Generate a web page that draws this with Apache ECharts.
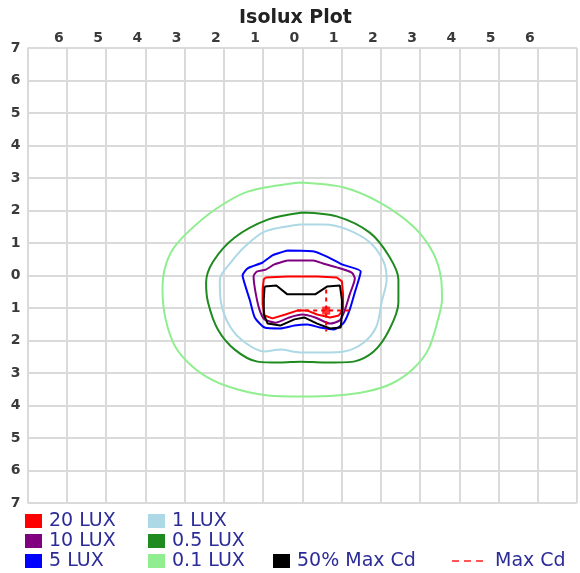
<!DOCTYPE html>
<html><head><meta charset="utf-8">
<script src="https://cdn.jsdelivr.net/npm/echarts@6/dist/echarts.min.js"></script>
<style>html,body{margin:0;padding:0;background:#fff}#c{width:580px;height:573px}</style>
</head><body><div id="c"></div>
<script>
// Contour paths (x: metres left/right, y: metres up/down; closed polygons)
const lux01 = [[-0.05,2.86],[1.06,2.71],[1.97,2.25],[2.83,1.51],[3.33,0.71],[3.54,-0.12],[3.56,-0.74],[3.46,-1.35],[3.21,-2.28],[2.8,-2.9],[2.27,-3.33],[1.64,-3.57],[0.88,-3.69],[0,-3.72],[-0.88,-3.69],[-1.64,-3.51],[-2.27,-3.23],[-2.8,-2.8],[-3.23,-2.2],[-3.48,-1.35],[-3.56,-0.43],[-3.5,0.22],[-3.3,0.8],[-2.9,1.35],[-2.22,2.03],[-1.39,2.58],[-0.05,2.86]];
const lux05 = [[0,1.94],[0.88,1.82],[1.72,1.32],[2.22,0.58],[2.45,-0.12],[2.45,-0.83],[2.22,-1.66],[1.82,-2.34],[1.31,-2.65],[0.56,-2.68],[-0.05,-2.65],[-0.56,-2.68],[-1.14,-2.65],[-1.72,-2.28],[-2.15,-1.66],[-2.4,-0.83],[-2.45,-0.22],[-2.27,0.43],[-1.72,1.17],[-0.88,1.72],[0,1.94]];
const lux1 = [[-0.05,1.57],[0.56,1.57],[1.14,1.42],[1.72,1.02],[2.07,0.43],[2.15,-0.12],[2.02,-0.83],[1.89,-1.57],[1.57,-2.06],[1.06,-2.34],[0.56,-2.37],[-0.05,-2.37],[-0.56,-2.28],[-0.96,-2.34],[-1.46,-2.06],[-1.84,-1.57],[-2.07,-0.83],[-2.1,-0.12],[-1.84,0.37],[-1.46,0.89],[-0.96,1.35],[-0.05,1.57]];
const lux5 = [[-0.38,0.77],[0.3,0.74],[0.63,0.58],[1.01,0.34],[1.49,0.12],[1.34,-0.52],[1.21,-1.05],[1.06,-1.45],[0.81,-1.66],[0.45,-1.6],[0.13,-1.51],[-0.2,-1.54],[-0.56,-1.63],[-0.96,-1.6],[-1.21,-1.29],[-1.34,-0.74],[-1.46,-0.28],[-1.52,0],[-1.39,0.22],[-1.01,0.4],[-0.76,0.62],[-0.38,0.77]];
const lux10 = [[-0.38,0.46],[0.28,0.46],[0.53,0.37],[0.88,0.25],[1.26,0.09],[1.34,-0.09],[1.21,-0.58],[1.09,-1.05],[0.96,-1.38],[0.71,-1.48],[0.33,-1.29],[0,-1.2],[-0.33,-1.29],[-0.68,-1.45],[-0.96,-1.35],[-1.09,-1.05],[-1.19,-0.52],[-1.24,-0.03],[-1.16,0.12],[-0.93,0.18],[-0.71,0.34],[-0.38,0.46]];
const lux20 = [[-0.93,-0.06],[-0.38,-0.03],[0.38,-0.03],[0.88,-0.06],[1.01,-0.18],[1.04,-0.58],[1.04,-1.05],[0.93,-1.23],[0.71,-1.29],[0.38,-1.2],[0.13,-1.08],[-0.13,-1.08],[-0.43,-1.2],[-0.76,-1.32],[-0.96,-1.23],[-1.01,-0.89],[-1.01,-0.43],[-0.98,-0.12],[-0.93,-0.06]];
const maxCd50 = [[-0.96,-0.34],[-0.66,-0.31],[-0.38,-0.58],[0.33,-0.58],[0.63,-0.34],[0.96,-0.31],[1.01,-0.74],[1.01,-1.2],[0.98,-1.6],[0.71,-1.63],[0.38,-1.48],[0.05,-1.29],[-0.2,-1.35],[-0.56,-1.54],[-0.88,-1.48],[-0.98,-1.2],[-0.98,-0.74],[-0.96,-0.34]];
const maxCdCross = [[-0.13,-1.08],[1.21,-1.08],['-','-'],[0.61,-0.43],[0.61,-1.72]];
const maxCdPoint = [[0.61,-1.08]];

const names1 = ['20 LUX','10 LUX','5 LUX'];
const names2 = ['1 LUX','0.5 LUX','0.1 LUX'];

const chart = echarts.init(document.getElementById('c'));
const grey = '#dadada';
function contour(name, data, color, smooth) {
  return {name, type:'line', data, symbol:'none', smooth: smooth || false,
    itemStyle:{color}, lineStyle:{color, width:2}, silent:true, z:2};
}
const legendText = {color:'#2c2c98', fontSize:19, fontFamily:'DejaVu Sans', lineHeight:20, padding:[0,0,0,2]};
const legendBase = {orient:'vertical', padding:0, itemGap:0, itemWidth:17, itemHeight:14, icon:'rect', selectedMode:false, height:80};
chart.setOption({
  animation:false,
  title:{text:'Isolux Plot', left:234, top:4,
    textStyle:{fontSize:19, fontWeight:'bold', fontFamily:'DejaVu Sans', color:'#222'}},
  grid:{left:27.5, top:48, width:553, height:455},
  xAxis:{type:'value', position:'top', min:-7, max:7, interval:1,
    axisLine:{show:true, lineStyle:{color:grey, width:2}}, axisTick:{show:false},
    splitLine:{show:true, lineStyle:{color:grey, width:2}},
    axisLabel:{margin:3, padding:[0,16,0,0], fontSize:14, fontWeight:'bold', fontFamily:'DejaVu Sans', color:'#3a3a3a',
      formatter:v => Math.abs(v) === 7 ? '' : String(Math.abs(v))}},
  yAxis:{type:'value', min:-7, max:7, interval:1,
    axisLine:{show:true, lineStyle:{color:grey, width:2}}, axisTick:{show:false},
    splitLine:{show:true, lineStyle:{color:grey, width:2}},
    axisLabel:{margin:7, fontSize:14, fontWeight:'bold', fontFamily:'DejaVu Sans', color:'#3a3a3a',
      formatter:v => String(Math.abs(v))}},
  legend:[
    Object.assign({}, legendBase, {data:names1, left:25, top:511, textStyle:legendText}),
    Object.assign({}, legendBase, {data:names2, left:148, top:511, textStyle:legendText}),
    Object.assign({}, legendBase, {data:['50% Max Cd'], left:273, top:551, textStyle:legendText}),
    Object.assign({}, legendBase, {data:[{name:'Max Cd', icon:'path://M0,0h7v2h-7zM12,0h7v2h-7zM24,0h7v2h-7z'}],
      left:452, top:551, itemWidth:31, itemHeight:2, textStyle:Object.assign({}, legendText, {padding:[0,0,0,7]})})
  ],
  series:[
    contour('0.1 LUX', lux01, '#90ee90', 0.3),
    contour('0.5 LUX', lux05, '#1f8a1f', 0.3),
    contour('1 LUX', lux1, '#add8e6', 0.3),
    contour('5 LUX', lux5, '#0000ff', 0.2),
    contour('10 LUX', lux10, '#800080', 0.2),
    contour('20 LUX', lux20, '#ff0000', false),
    contour('50% Max Cd', maxCd50, '#000000', false),
    {name:'Max Cd', type:'line', data:maxCdCross, symbol:'none', connectNulls:false,
      itemStyle:{color:'#ff5555'}, lineStyle:{color:'#ff0000', width:2, type:[4,4]}, z:3},
    {name:'Max Point', type:'scatter', data:maxCdPoint, symbol:'rect', symbolSize:8,
      itemStyle:{color:'#ff0000'}, z:4}
  ]
});
</script>
</body></html>
